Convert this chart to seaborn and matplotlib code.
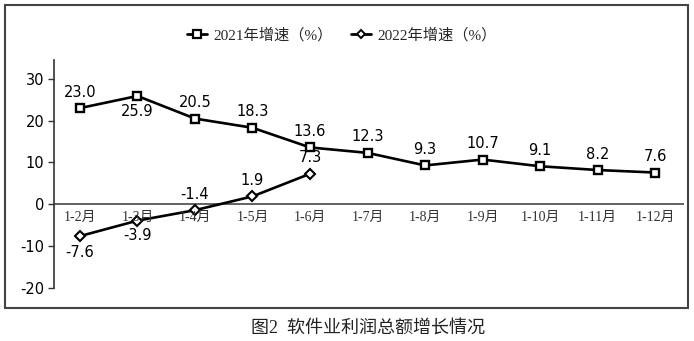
import matplotlib
matplotlib.use("Agg")
import matplotlib.pyplot as plt
import seaborn as sns
import pandas as pd
from matplotlib.patches import Rectangle
from matplotlib.lines import Line2D

categories = ["1-2月", "1-3月", "1-4月", "1-5月", "1-6月", "1-7月", "1-8月",
              "1-9月", "1-10月", "1-11月", "1-12月"]
growth_2021 = [23.0, 25.9, 20.5, 18.3, 13.6, 12.3, 9.3, 10.7, 9.1, 8.2, 7.6]
growth_2022 = [-7.6, -3.9, -1.4, 1.9, 7.3]
label_2021 = "2021年增速（%）"
label_2022 = "2022年增速（%）"
title = "图2  软件业利润总额增长情况"
yticks = [-20, -10, 0, 10, 20, 30]

sns.set_theme(style="white")
serif_cjk = ["Liberation Serif", "Noto Sans CJK SC"]
plt.rcParams["font.family"] = ["DejaVu Sans", "Noto Sans CJK SC"]

fig = plt.figure(figsize=(6.94, 3.41), dpi=100)
W, H = 694, 341
ax = fig.add_axes([54 / W, 1 - 288 / H, (684 - 54) / W, (288 - 60) / H])

df21 = pd.DataFrame({"x": range(len(growth_2021)), "y": growth_2021})
df22 = pd.DataFrame({"x": range(len(growth_2022)), "y": growth_2022})

ax.axhline(0, color="#555555", lw=1.3, zorder=1)

sns.lineplot(data=df21, x="x", y="y", ax=ax, color="black", lw=1.9,
             marker="s", markersize=6.2, markerfacecolor="white",
             markeredgecolor="black", markeredgewidth=1.7, zorder=3)
sns.lineplot(data=df22, x="x", y="y", ax=ax, color="black", lw=1.9,
             marker="D", markersize=4.8, markerfacecolor="white",
             markeredgecolor="black", markeredgewidth=1.5, zorder=3)

# data labels (offset of label centre, points)
offs21 = [11, -11.5, 11.5, 11.5, 11.5, 11.5, 11.5, 11.5, 11.5, 11.5, 11.5]
for i, v in enumerate(growth_2021):
    ax.annotate(f"{v:.1f}", (i, v), xytext=(0, offs21[i]), textcoords="offset points",
                ha="center", va="center", fontsize=10.5,
                color="black", family="DejaVu Sans", zorder=4)
offs22 = [-11.5, -11, 11.5, 11.5, 12]
for i, v in enumerate(growth_2022):
    ax.annotate(f"{v:.1f}", (i, v), xytext=(0, offs22[i]), textcoords="offset points",
                ha="center", va="center", fontsize=10.5,
                color="black", family="DejaVu Sans", zorder=4)

# category labels just below zero line
for i, c in enumerate(categories):
    ax.text(i, -1.5, c, ha="center", va="top", fontsize=10, color="#333333",
            family=serif_cjk)

ax.set_xlim(-0.45, 10.5)
ax.set_ylim(-20, 34.5)
ax.set_yticks(yticks)
ax.set_yticklabels([str(t) for t in yticks], fontsize=10.5)
ax.set_xticks([])
ax.set_xlabel("")
ax.set_ylabel("")
for s in ["top", "right", "bottom"]:
    ax.spines[s].set_visible(False)
ax.spines["left"].set_color("#333333")
ax.spines["left"].set_linewidth(1.2)
ax.tick_params(axis="y", left=True, length=4, width=1, color="#333333", pad=3,
               labelcolor="black")

handles = [
    Line2D([], [], color="black", lw=2, marker="s", markersize=6,
           markerfacecolor="white", markeredgewidth=1.6),
    Line2D([], [], color="black", lw=2, marker="D", markersize=4.5,
           markerfacecolor="white", markeredgewidth=1.4),
]
leg = fig.legend(handles, [label_2021, label_2022], loc="center",
                 bbox_to_anchor=(342 / W, 1 - 35 / H), ncol=2, frameon=False,
                 handlelength=1.3, handletextpad=0.4, columnspacing=1.2,
                 prop={"family": serif_cjk, "size": 11})

# outer frame
fig.patches.append(Rectangle((5 / W, 1 - 308 / H), (688 - 5) / W, (308 - 5) / H,
                             transform=fig.transFigure, fill=False,
                             edgecolor="#444444", lw=1.5))

fig.text(368 / W, 1 - 328 / H, title, ha="center", va="center", fontsize=13,
         family=serif_cjk, color="#222222")

fig.savefig("out.png", dpi=100)
